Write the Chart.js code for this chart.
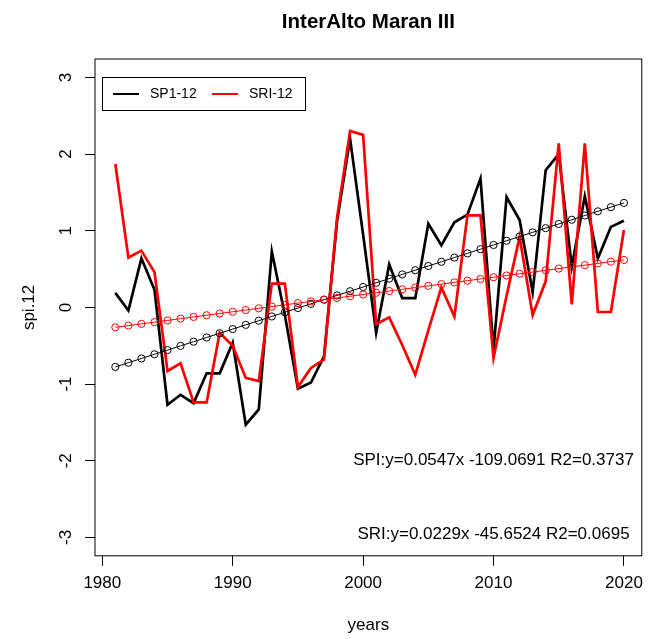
<!DOCTYPE html>
<html>
<head>
<meta charset="utf-8">
<script src="https://cdn.jsdelivr.net/npm/chart.js@4.4.1/dist/chart.umd.min.js"></script>
<style>
html,body{margin:0;padding:0;background:#fff;}
#wrap{width:650px;height:639px;}
</style>
</head>
<body>
<div id="wrap"><canvas id="c" width="650" height="639"></canvas></div>
<script>
// ---- data ----
const years = [1981,1982,1983,1984,1985,1986,1987,1988,1989,1990,
               1991,1992,1993,1994,1995,1996,1997,1998,1999,2000,
               2001,2002,2003,2004,2005,2006,2007,2008,2009,2010,
               2011,2012,2013,2014,2015,2016,2017,2018,2019,2020];
const spi12 = [0.19,-0.04,0.64,0.23,-1.27,-1.14,-1.25,-0.86,-0.86,-0.46,
               -1.53,-1.33,0.73,-0.10,-1.06,-0.98,-0.64,1.12,2.20,0.95,
               -0.33,0.56,0.12,0.12,1.09,0.81,1.11,1.21,1.68,-0.55,
               1.44,1.14,0.20,1.79,2.00,0.53,1.45,0.64,1.05,1.13];
const sri12 = [1.87,0.65,0.74,0.46,-0.83,-0.73,-1.24,-1.24,-0.33,-0.50,
               -0.92,-0.96,0.31,0.31,-1.04,-0.79,-0.68,1.17,2.30,2.25,
               -0.22,-0.13,-0.49,-0.88,-0.30,0.26,-0.12,1.20,1.20,-0.66,
               0.15,0.92,-0.10,0.34,2.14,0.04,2.14,-0.06,-0.06,1.01];
const seriesNames = ['SP1-12','SRI-12'];
const xTicks = [1980,1990,2000,2010,2020];
const yTicks = [-3,-2,-1,0,1,2,3];
const chartTitle = 'InterAlto Maran III';
const xTitle = 'years';
const yTitle = 'spi.12';
const equations = ['SPI:y=0.0547x -109.0691 R2=0.3737','SRI:y=0.0229x -45.6524 R2=0.0695'];
const equationX = 2010;
const equationY = [-2, -2.96];

// least-squares trend of each series (as the original lm fit)
function trend(xs, ys){
  const n = xs.length;
  const mx = xs.reduce((a,b)=>a+b,0)/n, my = ys.reduce((a,b)=>a+b,0)/n;
  let sxy=0, sxx=0;
  for(let i=0;i<n;i++){ sxy += (xs[i]-mx)*(ys[i]-my); sxx += (xs[i]-mx)*(xs[i]-mx); }
  const b = sxy/sxx, a = my - b*mx;
  return xs.map(x => a + b*x);
}
const pts = (ys) => years.map((x,i)=>({x:x, y:ys[i]}));

const FONT = '"Liberation Sans", Arial, Helvetica, sans-serif';
Chart.defaults.font.family = FONT;
Chart.defaults.color = '#000';

const extras = {
  id: 'extras',
  afterDatasetsDraw(chart){
    const {ctx, chartArea:a, scales:{x, y}} = chart;
    ctx.save();
    // plot box
    ctx.strokeStyle = '#000'; ctx.lineWidth = 1;
    ctx.strokeRect(a.left, a.top, a.right - a.left, a.bottom - a.top);
    // title centred over the plot region (as R does)
    ctx.fillStyle = '#000';
    ctx.font = 'bold 20.5px ' + FONT;
    ctx.textAlign = 'center'; ctx.textBaseline = 'middle';
    ctx.fillText(chartTitle, (a.left + a.right) / 2, 22);
    // y tick labels (parallel to axis, as in R)
    ctx.font = '17px ' + FONT;
    yTicks.forEach(v => {
      const p = y.getPixelForValue(v);
      ctx.save(); ctx.translate(a.left - 29, p); ctx.rotate(-Math.PI/2);
      ctx.fillText(String(v), 0, 0); ctx.restore();
    });
    // equations
    equations.forEach((t,i) => {
      ctx.fillText(t, x.getPixelForValue(equationX), y.getPixelForValue(equationY[i]));
    });
    // legend
    const lx = a.left + 7, ly = a.top + 18, lw = 203, lh = 33;
    ctx.strokeStyle = '#000'; ctx.lineWidth = 1;
    ctx.strokeRect(lx + 0.5, ly + 0.5, lw, lh);
    ctx.font = '14px ' + FONT;
    ctx.textAlign = 'left';
    const cy = ly + lh/2 + 0.5;
    const entryX = [lx + 11, lx + 110];
    [0,1].forEach(i => {
      const ds = chart.data.datasets[i];
      ctx.strokeStyle = ds.borderColor; ctx.lineWidth = 2;
      ctx.beginPath(); ctx.moveTo(entryX[i], cy); ctx.lineTo(entryX[i] + 26, cy); ctx.stroke();
      ctx.fillStyle = '#000';
      ctx.fillText(ds.label, entryX[i] + 37, cy);
    });
    ctx.restore();
  }
};

new Chart(document.getElementById('c'), {
  type: 'line',
  data: {
    datasets: [
      {label: seriesNames[0], data: pts(spi12), borderColor:'#000000', borderWidth:2.7,
       pointRadius:0, tension:0, fill:false, order:4},
      {label: seriesNames[1], data: pts(sri12), borderColor:'#ff0000', borderWidth:2.7,
       pointRadius:0, tension:0, fill:false, order:3},
      {label: 'SPI trend', data: pts(trend(years, spi12)), borderColor:'#000000', borderWidth:1,
       pointRadius:3.6, pointBorderWidth:1, pointBorderColor:'#000000', pointBackgroundColor:'rgba(0,0,0,0)',
       tension:0, fill:false, order:2},
      {label: 'SRI trend', data: pts(trend(years, sri12)), borderColor:'#ff0000', borderWidth:1,
       pointRadius:3.6, pointBorderWidth:1, pointBorderColor:'#ff0000', pointBackgroundColor:'rgba(0,0,0,0)',
       tension:0, fill:false, order:1}
    ]
  },
  options: {
    responsive:false, animation:false, devicePixelRatio:1,
    layout:{padding:{left:0, right:2.7, top:59, bottom:0}},
    plugins:{
      legend:{display:false},
      tooltip:{enabled:false},
      title:{display:false}
    },
    scales:{
      x:{
        type:'linear', min:1979.44, max:2021.37,
        afterBuildTicks: s => { s.ticks = xTicks.map(v => ({value:v})); },
        ticks:{callback: v => String(v), font:{size:17}, color:'#000', padding:7, maxRotation:0, autoSkip:false},
        grid:{drawOnChartArea:false, drawTicks:true, tickLength:10, tickColor:'#000', tickWidth:1},
        border:{display:false},
        title:{display:true, text:xTitle, color:'#000', font:{size:17}, padding:{top:0, bottom:3}},
        afterFit: s => { s.height = 639 - 555.8; }
      },
      y:{
        type:'linear', min:-3.24, max:3.24,
        afterBuildTicks: s => { s.ticks = yTicks.map(v => ({value:v})); },
        ticks:{display:false},
        grid:{drawOnChartArea:false, drawTicks:true, tickLength:10, tickColor:'#000', tickWidth:1},
        border:{display:false},
        title:{display:true, text:yTitle, color:'#000', font:{size:17}, padding:{top:19, bottom:0}},
        afterFit: s => { s.width = 95; }
      }
    }
  },
  plugins:[extras]
});
</script>
</body>
</html>
